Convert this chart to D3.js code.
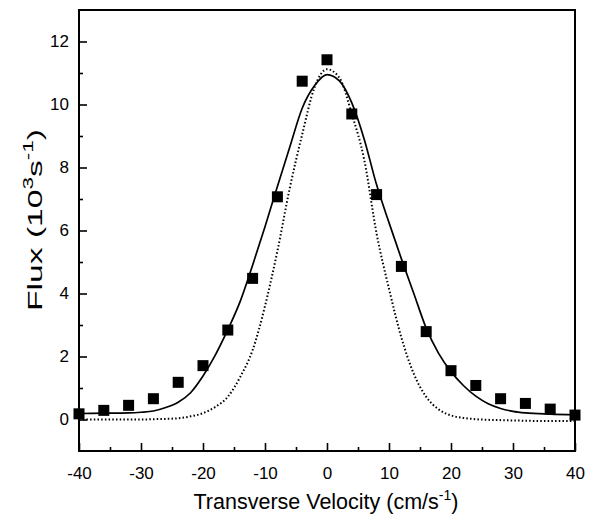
<!DOCTYPE html>
<html>
<head>
<meta charset="utf-8">
<script src="https://cdn.jsdelivr.net/npm/d3@7"></script>
<style>
  body { margin: 0; background: #fff; }
  svg { display: block; font-family: "Liberation Sans", Arial, sans-serif; }
</style>
</head>
<body>
<div id="chart"></div>
<script>
// measured points
const velocity = [-40, -36, -32, -28, -24, -20, -16, -12, -8, -4, 0, 4, 8, 12, 16, 20, 24, 28, 32, 36, 40];
const flux = [0.18, 0.29, 0.45, 0.66, 1.18, 1.71, 2.84, 4.48, 7.07, 10.74, 11.42, 9.7, 7.14, 4.86, 2.79, 1.55, 1.08, 0.66, 0.51, 0.33, 0.14];

// fitted curves
const fitVelocity = [-40, -36, -32, -30, -28, -26, -24, -22, -20, -18, -16, -14, -12, -10, -8, -6, -4, -2, 0,
                     2, 4, 6, 8, 10, 12, 14, 16, 18, 20, 22, 24, 26, 28, 30, 32, 36, 40];
const solidFit = [0.19, 0.2, 0.21, 0.23, 0.27, 0.38, 0.55, 0.85, 1.38, 2.05, 2.85, 3.75, 4.9, 6.12, 7.4, 8.65, 9.88, 10.6, 10.95,
                  10.75, 10.05, 8.9, 7.45, 6.25, 5.1, 4.0, 2.9, 2.1, 1.52, 1.08, 0.74, 0.5, 0.35, 0.26, 0.21, 0.17, 0.15];
const dottedFit = [0.0, 0.0, 0.0, 0.0, 0.01, 0.02, 0.04, 0.1, 0.2, 0.4, 0.72, 1.35, 2.2, 3.6, 5.35, 7.35, 9.05, 10.55, 11.12,
                   10.85, 9.7, 8.25, 5.9, 4.15, 2.6, 1.45, 0.72, 0.32, 0.13, 0.05, 0.01, -0.01, -0.02, -0.03, -0.04, -0.05, -0.05];

const xMajor = [-40, -30, -20, -10, 0, 10, 20, 30, 40];
const xMinor = [-35, -25, -15, -5, 5, 15, 25, 35];
const yMajor = [0, 2, 4, 6, 8, 10, 12];
const yMinor = [1, 3, 5, 7, 9, 11];

const margin = { top: 10, right: 19, bottom: 65, left: 79 },
      width = 594 - margin.left - margin.right,
      height = 516 - margin.top - margin.bottom;

const svg = d3.select("#chart").append("svg")
    .attr("width", 594)
    .attr("height", 516);

const g = svg.append("g")
    .attr("transform", `translate(${margin.left},${margin.top})`);

const x = d3.scaleLinear().domain([-40, 40]).range([0, width]);
const y = d3.scaleLinear().domain([-1, 13]).range([height, 0]);

// plain hyphen for negatives, like the original
const fmt = d => String(d);

// axes (ticks pointing inward)
g.append("g")
    .attr("transform", `translate(0,${height})`)
    .call(d3.axisBottom(x).tickValues(xMajor).tickSize(-8).tickPadding(15.5).tickFormat(fmt));
g.append("g")
    .attr("transform", `translate(0,${height})`)
    .call(d3.axisBottom(x).tickValues(xMinor).tickSize(-4).tickFormat(""));

g.append("g")
    .call(d3.axisLeft(y).tickValues(yMajor).tickSize(-8).tickPadding(10).tickFormat(fmt));
g.append("g")
    .call(d3.axisLeft(y).tickValues(yMinor).tickSize(-4).tickFormat(""));

g.selectAll(".domain").remove();
g.selectAll(".tick line").attr("stroke", "#000").attr("stroke-width", 1.6);
g.selectAll(".tick text")
    .attr("fill", "#000")
    .style("font-size", "17px")
    .style("font-family", "'Liberation Sans', Arial, sans-serif");

// frame
g.append("rect")
    .attr("x", 0)
    .attr("y", 0)
    .attr("width", width)
    .attr("height", height)
    .attr("fill", "none")
    .attr("stroke", "#000")
    .attr("stroke-width", 2);

const line = d3.line()
    .x(d => x(d[0]))
    .y(d => y(d[1]))
    .curve(d3.curveMonotoneX);

g.append("path")
    .datum(fitVelocity.map((v, i) => [v, dottedFit[i]]))
    .attr("fill", "none")
    .attr("stroke", "#000")
    .attr("stroke-width", 2)
    .attr("stroke-dasharray", "1.5,2.2")
    .attr("d", line);

g.append("path")
    .datum(fitVelocity.map((v, i) => [v, solidFit[i]]))
    .attr("fill", "none")
    .attr("stroke", "#000")
    .attr("stroke-width", 1.7)
    .attr("d", line);

const sq = 11;
g.selectAll(".pt")
    .data(velocity.map((v, i) => [v, flux[i]]))
    .enter()
    .append("rect")
    .attr("class", "pt")
    .attr("x", d => x(d[0]) - sq / 2)
    .attr("y", d => y(d[1]) - sq / 2)
    .attr("width", sq)
    .attr("height", sq)
    .attr("fill", "#000");

// axis titles
const xt = svg.append("text")
    .attr("x", 326)
    .attr("y", 509)
    .attr("text-anchor", "middle")
    .style("font-size", "21.5px")
    .attr("fill", "#000");
xt.append("tspan").text("Transverse Velocity (cm/s");
xt.append("tspan").attr("dy", -9).style("font-size", "14px").text("-1");
xt.append("tspan").attr("dy", 9).text(")");

// the original y title is drawn wide along its reading direction
const yt = svg.append("text")
    .attr("transform", "translate(42,220) rotate(-90)")
    .attr("text-anchor", "middle")
    .attr("textLength", 182)
    .attr("lengthAdjust", "spacingAndGlyphs")
    .style("font-size", "21px")
    .attr("fill", "#000");
yt.append("tspan").text("Flux (10");
yt.append("tspan").attr("dy", -9).style("font-size", "14px").text("3");
yt.append("tspan").attr("dy", 9).text("s");
yt.append("tspan").attr("dy", -9).style("font-size", "14px").text("-1");
yt.append("tspan").attr("dy", 9).text(")");
</script>
</body>
</html>
